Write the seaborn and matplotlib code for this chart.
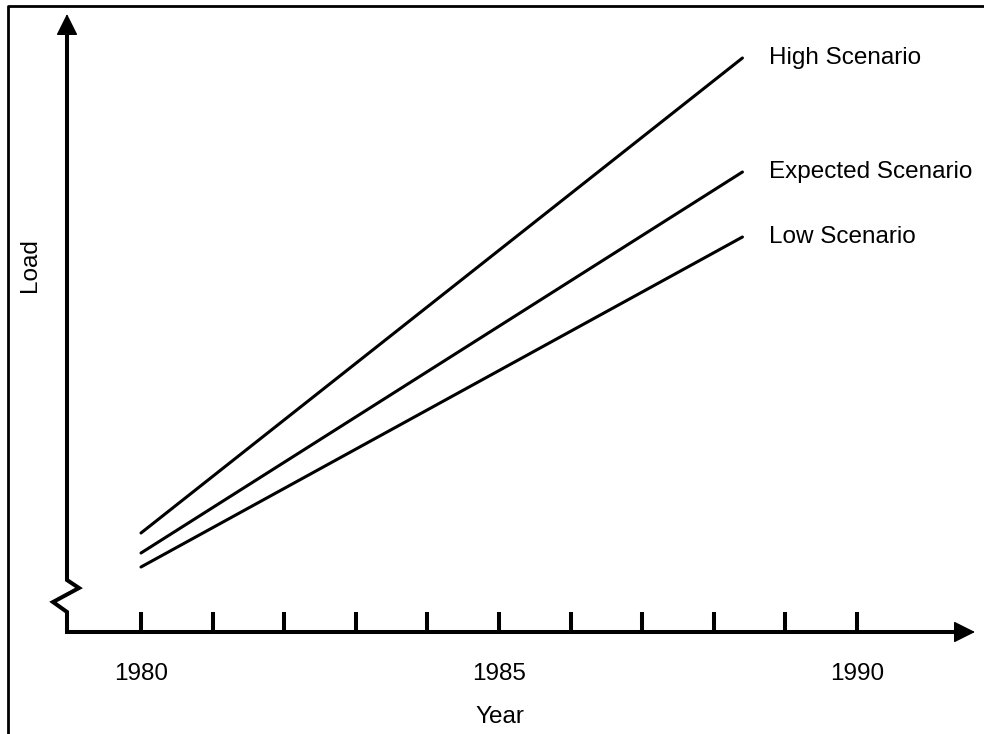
import pandas as pd
import seaborn as sns
import matplotlib.pyplot as plt
from matplotlib.lines import Line2D

# load scenarios (arbitrary load units), start and end year of each line
years = [1980, 1988.4]
high = [9.9, 57.4]
expected = [7.9, 46.0]
low = [6.5, 39.5]
scenarios = ["High Scenario", "Expected Scenario", "Low Scenario"]
tick_years = list(range(1980, 1991))
tick_labels = ["1980", "", "", "", "", "1985", "", "", "", "", "1990"]

data = pd.DataFrame({
    "year": years * 3,
    "load": high + expected + low,
    "scenario": [s for s in scenarios for _ in years],
})

sns.set_style("white")
plt.rcParams["font.family"] = ["Liberation Sans", "DejaVu Sans"]

fig = plt.figure(figsize=(9.84, 7.34), dpi=100)
ax = fig.add_axes([67 / 984, 102 / 734, 908 / 984, 618 / 734])

sns.lineplot(data=data, x="year", y="load", hue="scenario",
             palette=["black"] * 3, linewidth=2.2, legend=False, ax=ax)

ax.set_xlim(1978.9665, 1991.648)
ax.set_ylim(0, 61.8)

# scenario labels at the end of each line
for name, vals in zip(scenarios, [high, expected, low]):
    ax.annotate(name, xy=(years[-1], vals[-1]), xytext=(19, 0),
                textcoords="offset points", va="center", ha="left",
                fontsize=17.5, color="black")

for s in ax.spines.values():
    s.set_visible(False)

# axis with break symbol on the load axis
ax.plot([0, 0, 0.0132, -0.0154, 0, 0, 0.985],
        [0.975, 0.0841, 0.0712, 0.0485, 0.0324, 0, 0],
        transform=ax.transAxes, color="black", lw=2.9, clip_on=False,
        solid_joinstyle="miter", solid_capstyle="butt")
arrow = dict(arrowstyle="-|>,head_length=0.9,head_width=0.45", lw=1,
             color="black", mutation_scale=15, shrinkA=0, shrinkB=0)
ax.annotate("", xy=(0, 1), xytext=(0, 0.95), xycoords="axes fraction", arrowprops=arrow)
ax.annotate("", xy=(1, 0), xytext=(0.96, 0), xycoords="axes fraction", arrowprops=arrow)

ax.set_xticks(tick_years)
ax.set_xticklabels(tick_labels)
ax.set_yticks([])
ax.tick_params(axis="x", direction="in", length=14.4, width=2.9, pad=22,
               labelsize=17.5, colors="black", bottom=True)

ax.set_xlabel("Year", fontsize=17.5, color="black")
ax.xaxis.set_label_coords(0.477, -0.137)
ax.xaxis.label.set_va("center")
ax.set_ylabel("Load", fontsize=17.5, color="black")
ax.yaxis.set_label_coords(-0.0407, 0.594)
ax.yaxis.label.set_va("center")

# frame of the picture (left and top edges only)
fig.add_artist(Line2D([8 / 984, 8 / 984, 1.0], [0.0, 1 - 6 / 734, 1 - 6 / 734],
                      transform=fig.transFigure, color="black", lw=2))

fig.savefig("out.png", dpi=100)
